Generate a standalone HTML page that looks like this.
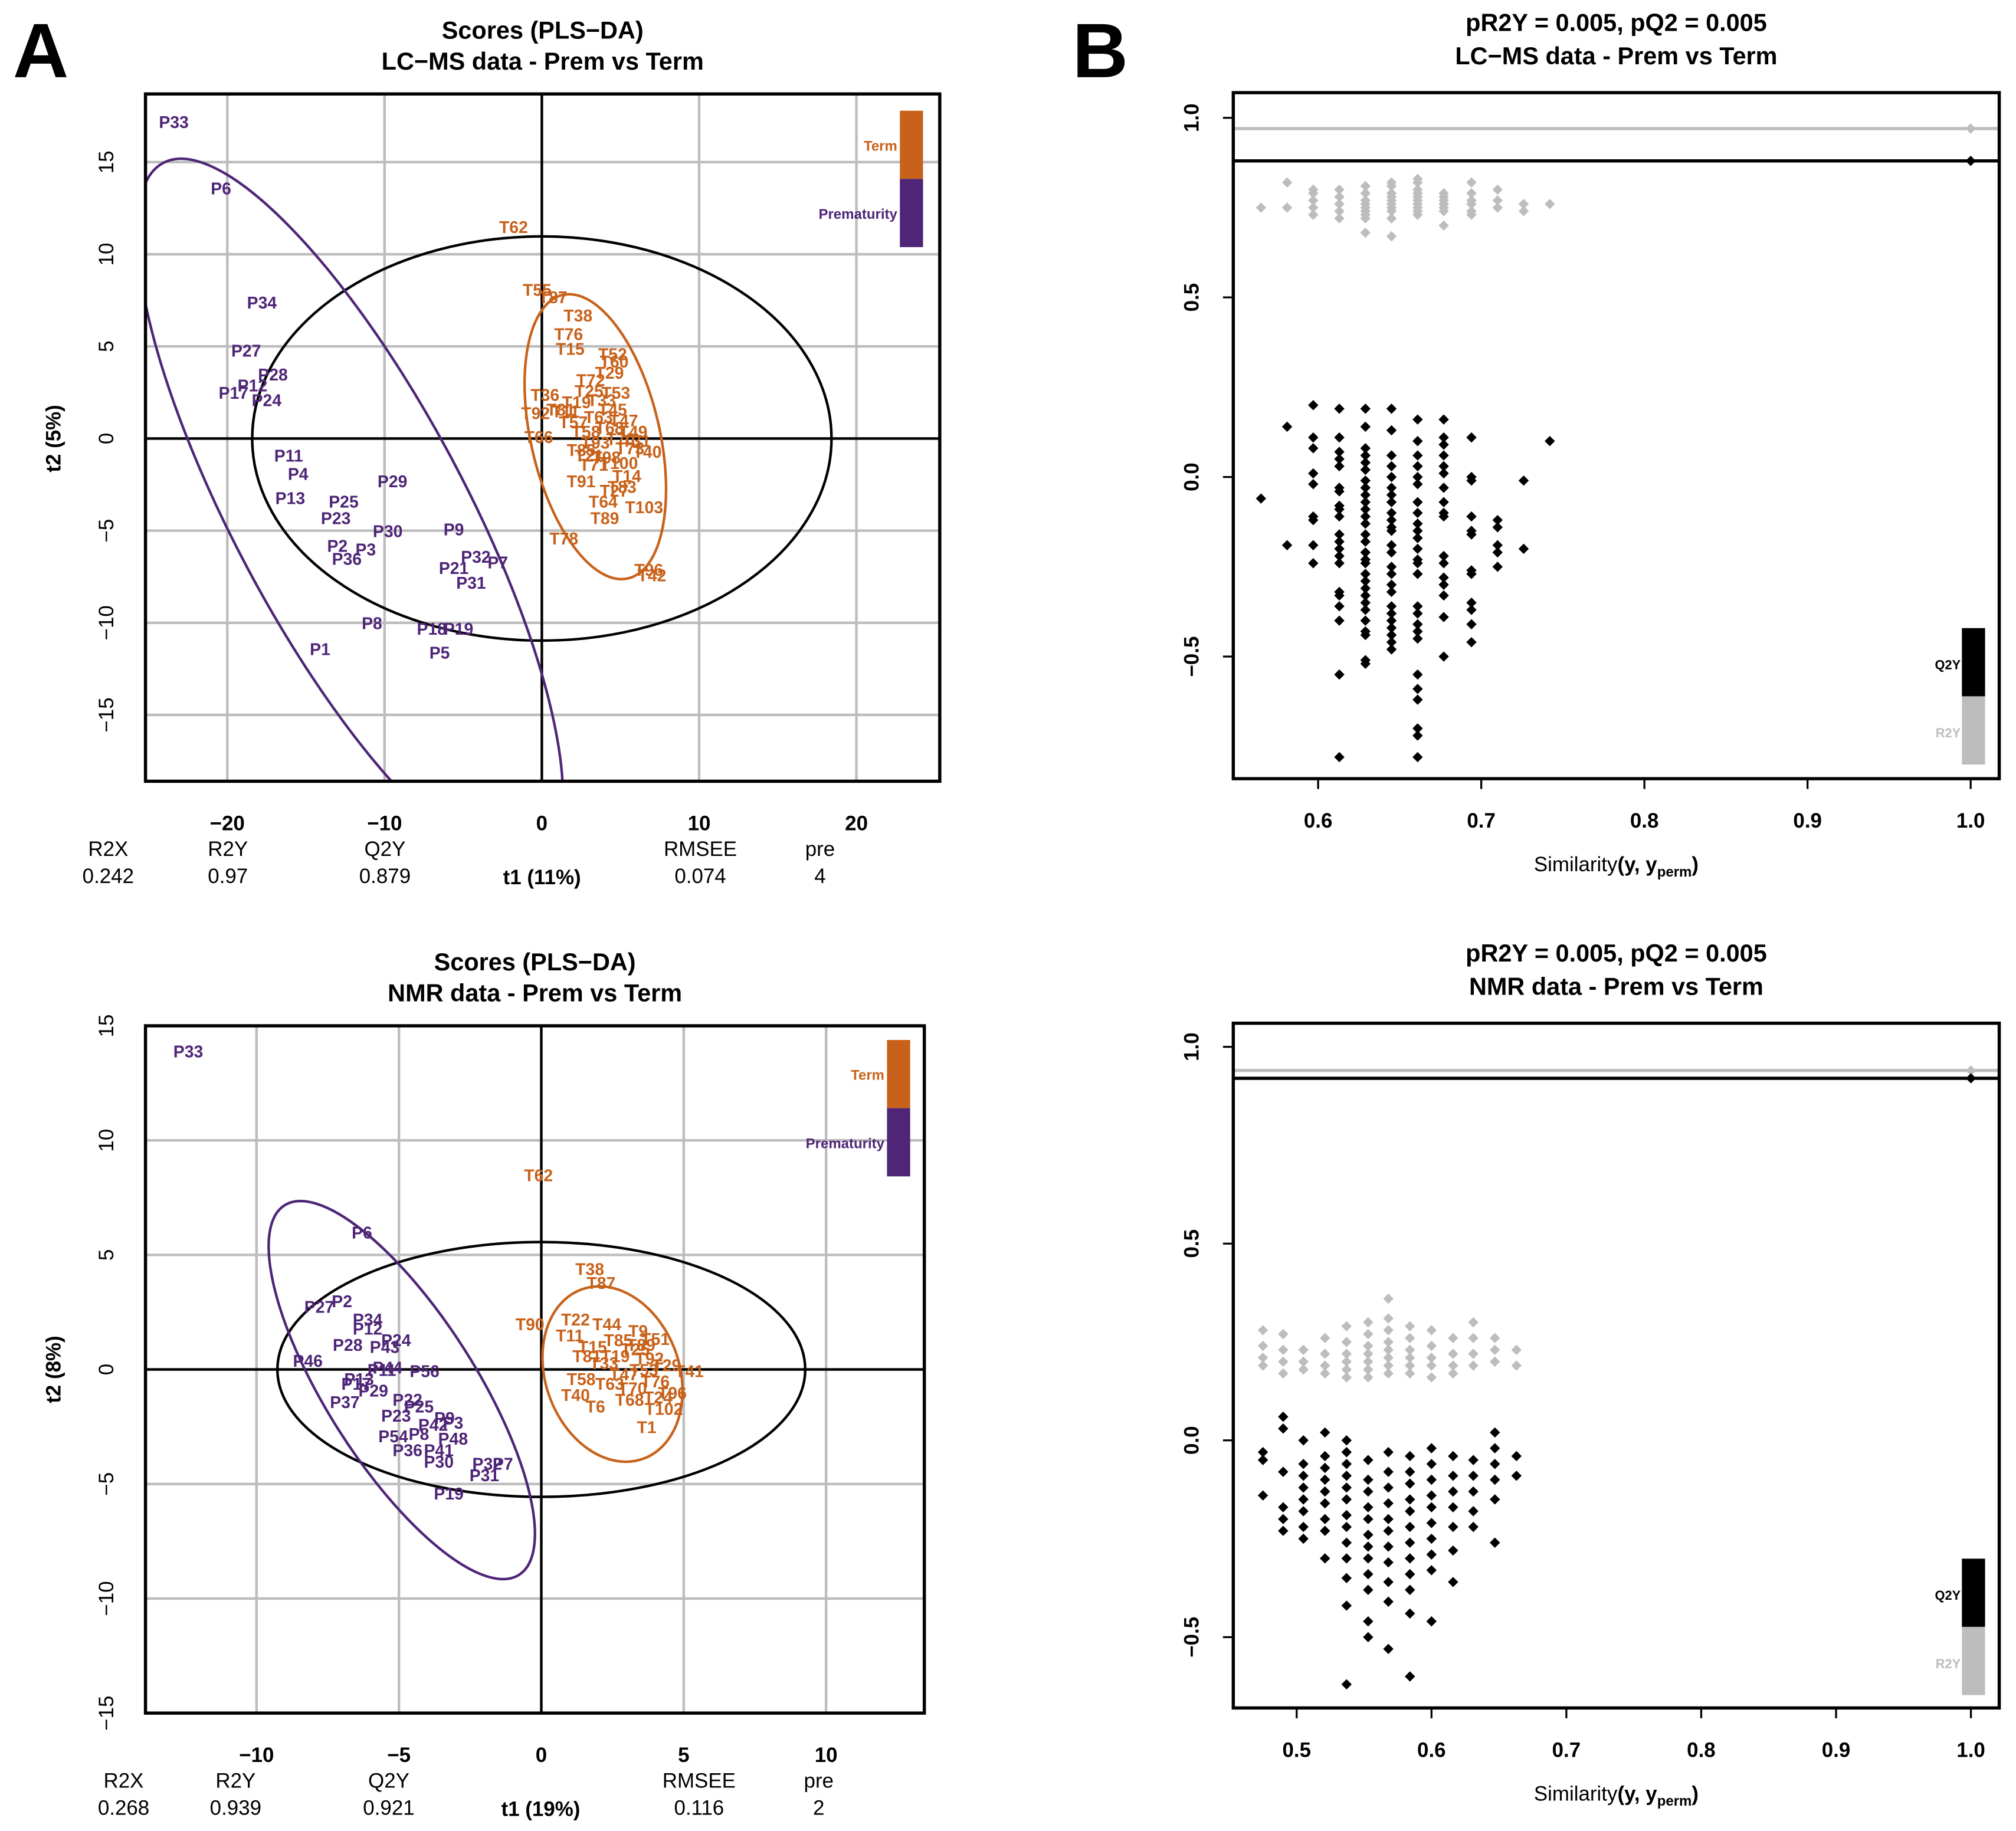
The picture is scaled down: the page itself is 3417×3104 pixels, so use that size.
<!DOCTYPE html>
<html><head><meta charset="utf-8"><style>
html,body{margin:0;padding:0;background:#fff}
svg{display:block}
text{font-family:"Liberation Sans",Arial,sans-serif}
</style></head><body>
<svg id="fig" xmlns="http://www.w3.org/2000/svg" width="3417" height="3104" viewBox="0 0 1566 1422.6">
<rect x="0" y="0" width="1566" height="1423" fill="#fff"/>
<defs>
<clipPath id="c1"><rect x="113" y="73" width="617" height="534"/></clipPath>
<clipPath id="c3"><rect x="113" y="797" width="605" height="534"/></clipPath>
</defs>
<text x="10" y="60" font-size="60" font-weight="bold">A</text>
<text x="833" y="60" font-size="60" font-weight="bold">B</text>
<g id="g1"></g>
<g id="g2"></g>
<g id="g3"></g>
<g id="g4"></g>
</svg>
<script>
// ---------- DATA: LC-MS scores ----------
const lcPLabels=["P33","P6","P34","P27","P28","P12","P17","P24","P11","P4","P13","P29","P25","P23","P30","P9","P2","P3","P36","P32","P7","P21","P31","P8","P18","P19","P1","P5"];
const lcPT1=[-23.4,-20.4,-17.8,-18.8,-17.1,-18.4,-19.6,-17.5,-16.1,-15.5,-16.0,-9.5,-12.6,-13.1,-9.8,-5.6,-13.0,-11.2,-12.4,-4.2,-2.8,-5.6,-4.5,-10.8,-7.0,-5.3,-14.1,-6.5];
const lcPT2=[17.2,13.6,7.4,4.8,3.5,2.9,2.5,2.1,-0.9,-1.9,-3.2,-2.3,-3.4,-4.3,-5.0,-4.9,-5.8,-6.0,-6.5,-6.4,-6.7,-7.0,-7.8,-10.0,-10.3,-10.3,-11.4,-11.6];
const lcTLabels=["T62","T55","T87","T38","T76","T15","T52","T60","T72","T29","T53","T36","T92","T66","T40","T71","T91","T83","T64","T103","T89","T78","T96","T42","T11","T19","T25","T33","T45","T47","T49","T57","T58","T63","T68","T70","T73","T81","T85","T93","T98","T100","T14","T21","T27","T31"];
const lcTT1=[-1.8,-0.3,0.7,2.3,1.7,1.8,4.5,4.6,3.1,4.3,4.7,0.2,-0.4,-0.2,6.7,3.3,2.5,5.1,3.9,6.5,4.0,1.4,6.8,7.0,1.5,2.2,3.0,3.8,4.5,5.2,5.8,2.0,2.8,3.6,4.3,5.0,5.6,1.2,2.5,3.4,4.1,4.9,5.4,3.0,4.6,6.0];
const lcTT2=[11.5,8.1,7.7,6.7,5.7,4.9,4.6,4.2,3.2,3.6,2.5,2.4,1.4,0.1,-0.7,-1.4,-2.3,-2.6,-3.4,-3.7,-4.3,-5.4,-7.1,-7.4,1.5,2.0,2.6,2.1,1.6,1.0,0.4,0.9,0.4,1.2,0.6,0.0,-0.5,1.6,-0.6,-0.2,-1.0,-1.3,-2.0,-0.9,-2.8,-0.1];
// ---------- DATA: NMR scores ----------
const nmPLabels=["P33","P6","P2","P27","P34","P12","P24","P28","P43","P46","P56","P44","P13","P29","P37","P22","P25","P23","P9","P42","P3","P54","P8","P48","P36","P41","P30","P32","P7","P31","P19","P17","P11"];
const nmPT1=[-12.4,-6.3,-7.0,-7.8,-6.1,-6.1,-5.1,-6.8,-5.5,-8.2,-4.1,-5.4,-6.4,-5.9,-6.9,-4.7,-4.3,-5.1,-3.4,-3.8,-3.1,-5.2,-4.3,-3.1,-4.7,-3.6,-3.6,-1.9,-1.35,-2.0,-3.25,-6.5,-5.6];
const nmPT2=[13.9,6.0,3.0,2.75,2.2,1.8,1.3,1.1,1.0,0.4,-0.05,0.1,-0.4,-0.9,-1.4,-1.3,-1.6,-2.0,-2.1,-2.4,-2.3,-2.9,-2.8,-3.0,-3.5,-3.5,-4.0,-4.1,-4.1,-4.6,-5.4,-0.6,0.0];
const nmTLabels=["T62","T38","T87","T90","T22","T51","T9","T44","T41","T92","T24","T102","T68","T6","T40","T1","T11","T15","T19","T25","T29","T33","T47","T53","T58","T63","T70","T76","T81","T85","T89","T96"];
const nmTT1=[-0.1,1.7,2.1,-0.4,1.2,4.0,3.4,2.3,5.2,3.8,4.1,4.3,3.1,1.9,1.2,3.7,1.0,1.8,2.6,3.3,4.4,2.2,2.9,3.6,1.4,2.4,3.2,4.0,1.6,2.7,3.5,4.6];
const nmTT2=[8.5,4.4,3.8,2.0,2.2,1.35,1.7,2.0,-0.05,0.5,-1.2,-1.7,-1.3,-1.6,-1.1,-2.5,1.5,1.0,0.6,0.9,0.2,0.3,-0.2,0.0,-0.4,-0.6,-0.8,-0.5,0.6,1.3,1.1,-1.0];
// ---------- DATA: LC-MS permutations ----------
const lcCols=[0.565,0.581,0.597,0.613,0.629,0.645,0.661,0.677,0.694,0.710,0.726,0.742];
const lcQ2=[[-0.06],[0.14,-0.19],[0.20,0.11,0.08,0.01,-0.02,-0.11,-0.12,-0.19,-0.24],
[0.19,0.11,0.07,0.05,0.03,-0.03,-0.04,-0.08,-0.09,-0.11,-0.16,-0.18,-0.20,-0.22,-0.24,-0.32,-0.33,-0.36,-0.40,-0.55,-0.78],
[0.19,0.14,0.08,0.06,0.04,0.02,-0.01,-0.03,-0.05,-0.07,-0.09,-0.11,-0.13,-0.16,-0.18,-0.21,-0.23,-0.24,-0.27,-0.29,-0.31,-0.33,-0.35,-0.37,-0.40,-0.43,-0.44,-0.51,-0.52],
[0.19,0.13,0.06,0.03,0.0,-0.03,-0.05,-0.07,-0.10,-0.12,-0.14,-0.15,-0.19,-0.21,-0.25,-0.27,-0.30,-0.32,-0.36,-0.38,-0.40,-0.42,-0.44,-0.46,-0.48],
[0.16,0.10,0.06,0.03,0.0,-0.02,-0.07,-0.10,-0.13,-0.15,-0.17,-0.20,-0.23,-0.24,-0.27,-0.36,-0.38,-0.41,-0.43,-0.45,-0.55,-0.59,-0.62,-0.70,-0.72,-0.78],
[0.16,0.11,0.09,0.06,0.03,0.01,-0.03,-0.07,-0.10,-0.11,-0.22,-0.24,-0.28,-0.30,-0.33,-0.39,-0.50],
[0.11,0.0,-0.01,-0.11,-0.15,-0.16,-0.26,-0.27,-0.35,-0.37,-0.41,-0.46],
[-0.12,-0.14,-0.19,-0.21,-0.25],[-0.01,-0.20],[0.10]];
const lcR2=[[0.75],[0.82,0.75],[0.80,0.79,0.77,0.75,0.73],[0.80,0.78,0.76,0.74,0.72],
[0.81,0.79,0.77,0.76,0.75,0.74,0.73,0.72,0.68],[0.82,0.81,0.79,0.78,0.77,0.76,0.75,0.74,0.72,0.67],
[0.83,0.82,0.80,0.79,0.78,0.77,0.76,0.75,0.74,0.73],[0.79,0.78,0.77,0.76,0.75,0.74,0.70],
[0.82,0.79,0.77,0.76,0.74,0.73],[0.80,0.77,0.75],[0.76,0.74],[0.76]];
const lcModel=[0.97,0.88]; // R2Y, Q2Y of real model
// ---------- DATA: NMR permutations ----------
const nmCols=[0.475,0.490,0.505,0.521,0.537,0.553,0.568,0.584,0.600,0.616,0.631,0.647,0.663];
const nmQ2=[[-0.03,-0.05,-0.14],[0.06,0.03,-0.08,-0.17,-0.2,-0.23],[0.0,-0.06,-0.09,-0.12,-0.15,-0.18,-0.22,-0.25],
[0.02,-0.04,-0.07,-0.1,-0.13,-0.16,-0.2,-0.23,-0.3],[0.0,-0.03,-0.06,-0.09,-0.12,-0.15,-0.19,-0.22,-0.26,-0.3,-0.35,-0.42,-0.62],
[-0.05,-0.1,-0.13,-0.17,-0.2,-0.24,-0.27,-0.3,-0.34,-0.38,-0.46,-0.5],[-0.03,-0.08,-0.12,-0.16,-0.2,-0.23,-0.27,-0.31,-0.36,-0.41,-0.53],
[-0.04,-0.08,-0.11,-0.15,-0.18,-0.22,-0.26,-0.3,-0.34,-0.38,-0.44,-0.6],[-0.02,-0.06,-0.1,-0.14,-0.17,-0.21,-0.25,-0.29,-0.33,-0.46],
[-0.04,-0.09,-0.13,-0.17,-0.22,-0.28,-0.36],[-0.05,-0.09,-0.13,-0.18,-0.22],[0.02,-0.02,-0.06,-0.1,-0.15,-0.26],[-0.04,-0.09]];
const nmR2=[[0.28,0.24,0.21,0.19],[0.27,0.23,0.2,0.17],[0.23,0.2,0.18],[0.26,0.22,0.19,0.17],[0.29,0.25,0.22,0.2,0.18,0.16],
[0.3,0.27,0.24,0.22,0.2,0.18,0.16],[0.36,0.31,0.28,0.25,0.23,0.21,0.19,0.17],[0.29,0.26,0.23,0.21,0.19,0.17],
[0.28,0.24,0.21,0.19,0.16],[0.26,0.22,0.19,0.17],[0.3,0.26,0.22,0.19],[0.26,0.23,0.2],[0.23,0.19]];
const nmModel=[0.94,0.92];
// ---------- TICKS ----------
const lcXTicks=[-20,-10,0,10,20], lcYTicks=[-15,-10,-5,0,5,10,15];
const nmXTicks=[-10,-5,0,5,10], nmYTicks=[-15,-10,-5,0,5,10,15];
const lcSimTicks=[0.6,0.7,0.8,0.9,1.0], lcPermY=[-0.5,0.0,0.5,1.0];
const nmSimTicks=[0.5,0.6,0.7,0.8,0.9,1.0], nmPermY=[-0.5,0.0,0.5,1.0];

const NS="http://www.w3.org/2000/svg";
const PUR="#4e2577", ORA="#c8621b";
function mk(parent,tag,attrs,txt){const e=document.createElementNS(NS,tag);for(const k in attrs)e.setAttribute(k,attrs[k]);if(txt!==undefined)e.textContent=txt;parent.appendChild(e);return e;}
function lin(d0,d1,r0,r1){return v=>r0+(v-d0)*(r1-r0)/(d1-d0);}
function fmt(v,d){return d?v.toFixed(1):String(v);}

function scores(g,box,xd,yd,xt,yt,clip,P,T,ell,legend,info,titles,ylab){
  const X=lin(xd[0],xd[1],box[0],box[2]),Y=lin(yd[0],yd[1],box[3],box[1]);
  const t1=mk(g,'text',{x:(box[0]+box[2])/2,y:box[1]-43,'font-size':19,'font-weight':'bold','text-anchor':'middle'},titles[0]);
  
  const t2=mk(g,'text',{x:(box[0]+box[2])/2,y:box[1]-19,'font-size':19,'font-weight':'bold','text-anchor':'middle'},titles[1]);
  
  xt.forEach(v=>{const l=mk(g,'line',{x1:X(v),x2:X(v),y1:box[1],y2:box[3],stroke:'#bdbdbd','stroke-width':2});
    
    const t=mk(g,'text',{x:X(v),y:box[3]+38,'font-size':16,'font-weight':'bold','text-anchor':'middle'},v<0?'\u2212'+(-v):String(v));
    });
  yt.forEach(v=>{const l=mk(g,'line',{x1:box[0],x2:box[2],y1:Y(v),y2:Y(v),stroke:'#bdbdbd','stroke-width':2});
    
    const t=mk(g,'text',{x:0,y:0,'font-size':16,'text-anchor':'middle',transform:`translate(${box[0]-25},${Y(v)}) rotate(-90)`},v<0?'\u2212'+(-v):String(v));
    });
  const cg=mk(g,'g',{'clip-path':`url(#${clip})`});
  
  const a1=mk(cg,'line',{x1:X(0),x2:X(0),y1:box[1],y2:box[3],stroke:'#000','stroke-width':2});
  
  const a2=mk(cg,'line',{x1:box[0],x2:box[2],y1:Y(0),y2:Y(0),stroke:'#000','stroke-width':2});
  
  // ellipses: [cx,cy(data), rx,ry(px), angle, color, name]
  ell.forEach(e=>{const el=mk(cg,'ellipse',{cx:0,cy:0,rx:e[2],ry:e[3],fill:'none',stroke:e[5],'stroke-width':2,transform:`translate(${X(e[0])},${Y(e[1])}) rotate(${e[4]})`});
    });
  [[P,PUR,'prem-label'],[T,ORA,'term-label']].forEach(([S,c,n])=>{
    S[0].forEach((lab,i)=>{const t=mk(cg,'text',{x:X(S[1][i]),y:Y(S[2][i])+5,'font-size':13,'font-weight':'bold',fill:c,'text-anchor':'middle'},lab);
      });});
  const fr=mk(g,'rect',{x:box[0],y:box[1],width:box[2]-box[0],height:box[3]-box[1],fill:'none',stroke:'#000','stroke-width':2.5});
  
  // legend
  const lg=mk(g,'g',{});
  const r1=mk(lg,'rect',{x:legend[0],y:legend[1],width:18,height:53,fill:ORA});
  const r2=mk(lg,'rect',{x:legend[0],y:legend[1]+53,width:18,height:53,fill:PUR});
  const l1=mk(lg,'text',{x:legend[0]-2,y:legend[1]+31,'font-size':11,'font-weight':'bold',fill:ORA,'text-anchor':'end'},'Term');
  const l2=mk(lg,'text',{x:legend[0]-2,y:legend[1]+84,'font-size':11,'font-weight':'bold',fill:PUR,'text-anchor':'end'},'Prematurity');
  // info rows
  info.forEach(it=>{const t=mk(g,'text',{x:it[0],y:box[3]+it[1],'font-size':16,'text-anchor':'middle','font-weight':it[3]?'bold':'normal'},it[2]);
    });
  const yl=mk(g,'text',{x:0,y:0,'font-size':16,'font-weight':'bold','text-anchor':'middle',transform:`translate(${box[0]-66},${Y(0)}) rotate(-90)`},ylab);
  
}

function perm(g,box,xd,yd,xt,yt,cols,Q,R,model,legendY,titles){
  const X=lin(xd[0],xd[1],box[0],box[2]),Y=lin(yd[0],yd[1],box[3],box[1]);
  const t1=mk(g,'text',{x:(box[0]+box[2])/2,y:box[1]-48,'font-size':19,'font-weight':'bold','text-anchor':'middle'},titles[0]);
  
  const t2=mk(g,'text',{x:(box[0]+box[2])/2,y:box[1]-22,'font-size':19,'font-weight':'bold','text-anchor':'middle'},titles[1]);
  
  xt.forEach(v=>{const tk=mk(g,'line',{x1:X(v),x2:X(v),y1:box[3],y2:box[3]+8,stroke:'#000','stroke-width':1.5});
    
    const t=mk(g,'text',{x:X(v),y:box[3]+38,'font-size':16,'font-weight':'bold','text-anchor':'middle'},fmt(v,1));
    });
  yt.forEach(v=>{const tk=mk(g,'line',{x1:box[0]-8,x2:box[0],y1:Y(v),y2:Y(v),stroke:'#000','stroke-width':1.5});
    
    const t=mk(g,'text',{x:0,y:0,'font-size':16,'font-weight':'bold','text-anchor':'middle',transform:`translate(${box[0]-27},${Y(v)}) rotate(-90)`},(v<0?'\u2212'+(-v).toFixed(1):v.toFixed(1)));
    });
  const h1=mk(g,'line',{x1:box[0],x2:box[2],y1:Y(model[0]),y2:Y(model[0]),stroke:'#bdbdbd','stroke-width':2.5});
  
  const h2=mk(g,'line',{x1:box[0],x2:box[2],y1:Y(model[1]),y2:Y(model[1]),stroke:'#000','stroke-width':2.5});
  
  function dia(x,y,c,n){const s=4;const p=mk(g,'polygon',{points:`${x},${y-s} ${x+s},${y} ${x},${y+s} ${x-s},${y}`,fill:c});
    }
  cols.forEach((c,i)=>{R[i].forEach(v=>dia(X(c),Y(v),'#bdbdbd','r2y-point'));});
  cols.forEach((c,i)=>{Q[i].forEach(v=>dia(X(c),Y(v),'#000','q2y-point'));});
  dia(X(1),Y(model[0]),'#bdbdbd','r2y-model-point');dia(X(1),Y(model[1]),'#000','q2y-model-point');
  const fr=mk(g,'rect',{x:box[0],y:box[1],width:box[2]-box[0],height:box[3]-box[1],fill:'none',stroke:'#000','stroke-width':2.5});
  
  const lg=mk(g,'g',{});
  const r1=mk(lg,'rect',{x:box[2]-29,y:legendY,width:18,height:53,fill:'#000'});
  const r2=mk(lg,'rect',{x:box[2]-29,y:legendY+53,width:18,height:53,fill:'#bdbdbd'});
  const l1=mk(lg,'text',{x:box[2]-30,y:legendY+32,'font-size':10,'font-weight':'bold',fill:'#000','text-anchor':'end'},'Q2Y');
  const l2=mk(lg,'text',{x:box[2]-30,y:legendY+85,'font-size':10,'font-weight':'bold',fill:'#bdbdbd','text-anchor':'end'},'R2Y');
  const xl=mk(g,'text',{x:(box[0]+box[2])/2,y:box[3]+72,'font-size':16,'text-anchor':'middle'});
  
  mk(xl,'tspan',{},'Similarity');mk(xl,'tspan',{'font-weight':'bold'},'(y, y');
  mk(xl,'tspan',{'font-weight':'bold','font-size':11,dy:4},'perm');mk(xl,'tspan',{'font-weight':'bold',dy:-4},')');
}

scores(document.getElementById('g1'),[113,73,730,607],[-25.2,25.3],[-18.6,18.7],lcXTicks,lcYTicks,'c1',
  [lcPLabels,lcPT1,lcPT2],[lcTLabels,lcTT1,lcTT2],
  [[0,0,225,157,0,'#000','model-ellipse'],[-12.2,-4.1,309,90,62,PUR,'prem-ellipse'],[3.4,0.1,113,50,77,ORA,'term-ellipse']],
  [699,86],
  [[84,58,'R2X'],[177,58,'R2Y'],[299,58,'Q2Y'],[544,58,'RMSEE'],[637,58,'pre'],
   [84,79,'0.242'],[177,79,'0.97'],[299,79,'0.879'],[421,80,'t1 (11%)',1],[544,79,'0.074'],[637,79,'4']],
  ['Scores (PLS\u2212DA)','LC\u2212MS data - Prem vs Term'],'t2 (5%)');
scores(document.getElementById('g3'),[113,797,718,1331],[-13.9,13.45],[-15,15],nmXTicks,nmYTicks,'c3',
  [nmPLabels,nmPT1,nmPT2],[nmTLabels,nmTT1,nmTT2],
  [[0,0,205,99,0,'#000','model-ellipse'],[-4.9,-0.9,170,58,57.6,PUR,'prem-ellipse'],[2.5,-0.2,70,52,70,ORA,'term-ellipse']],
  [689,808],
  [[96,58,'R2X'],[183,58,'R2Y'],[302,58,'Q2Y'],[543,58,'RMSEE'],[636,58,'pre'],
   [96,79,'0.268'],[183,79,'0.939'],[302,79,'0.921'],[420,80,'t1 (19%)',1],[543,79,'0.116'],[636,79,'2']],
  ['Scores (PLS\u2212DA)','NMR data - Prem vs Term'],'t2 (8%)');
perm(document.getElementById('g2'),[958,72,1553,605],[0.548,1.0175],[-0.84,1.07],lcSimTicks,lcPermY,lcCols,lcQ2,lcR2,lcModel,488,
  ['pR2Y = 0.005, pQ2 = 0.005','LC\u2212MS data - Prem vs Term']);
perm(document.getElementById('g4'),[958,795,1553,1327],[0.453,1.021],[-0.68,1.06],nmSimTicks,nmPermY,nmCols,nmQ2,nmR2,nmModel,1211,
  ['pR2Y = 0.005, pQ2 = 0.005','NMR data - Prem vs Term']);
</script>
</body></html>
